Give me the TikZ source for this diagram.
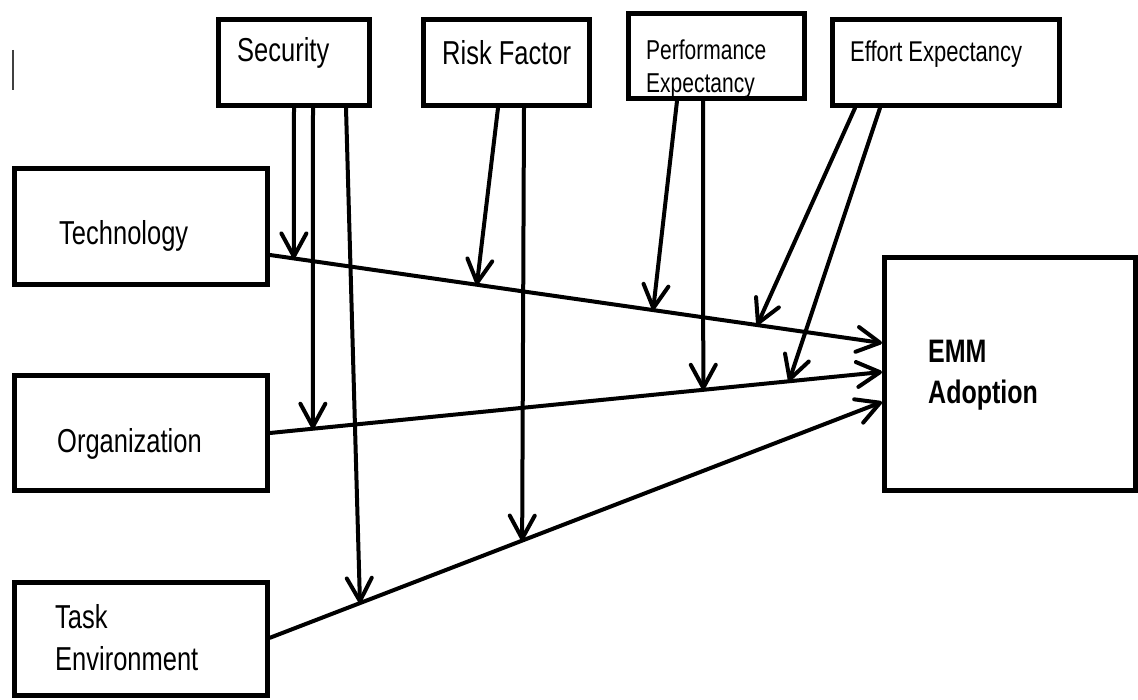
\documentclass[tikz,border=0pt]{standalone}
\usepackage{fontspec}
\usepackage{graphicx}
\setmainfont{Liberation Sans}
\usetikzlibrary{arrows.meta}
% Arial-like text, drawn slightly taller than wide
\newcommand{\tallText}[1]{\scalebox{1}[1.3]{#1}}

\begin{document}
\begin{tikzpicture}[x=1pt,y=-1pt,
  box/.style={draw, rectangle, line width=5pt, inner sep=0pt},
  lbl/.style={anchor=base west, inner sep=0pt, font=\fontsize{25.5}{30}\selectfont},
  smalllbl/.style={lbl, font=\fontsize{21}{25}\selectfont},
  conn/.style={line width=4pt, line cap=round,
    -{Straight Barb[length=23pt,width=25pt,round]}}
]
\useasboundingbox (0,0) rectangle (1138,700);

% stray cursor mark at the top left
\draw[line width=1.5pt, gray!50!black] (13,50) -- (13,90);

% moderator boxes along the top
\node[box, minimum width=151, minimum height=86] (sec)  at (294,62.5) {};
\node[box, minimum width=166, minimum height=86] (risk) at (506.5,62.5) {};
\node[box, minimum width=176, minimum height=85] (perf) at (716.5,56) {};
\node[box, minimum width=227, minimum height=86] (eff)  at (946,62.5) {};

% independent variables on the left
\node[box, minimum width=253, minimum height=116]   (tech) at (141,226.5) {};
\node[box, minimum width=253, minimum height=115]   (org)  at (141,433) {};
\node[box, minimum width=253, minimum height=113.5] (task) at (141,639) {};

% dependent variable
\node[box, minimum width=250.5, minimum height=233] (emm) at (1009.75,374) {};

% labels
\node[lbl] (secT)  at (237,62) {\tallText{Security}};
\node[lbl] (riskT) at (442,65) {\tallText{Risk Factor}};
\node[smalllbl] (perfTa) at (646,60) {\tallText{Performance}};
\node[smalllbl] (perfTb) at (646,93) {\tallText{Expectancy}};
\node[lbl, font=\fontsize{22}{26}\selectfont] (effT) at (850,62) {\tallText{Effort Expectancy}};
\node[lbl] (techT)  at (59,245) {\tallText{Technology}};
\node[lbl] (orgT)   at (57,452) {\tallText{Organization}};
\node[lbl] (taskTa) at (55,628) {\tallText{Task}};
\node[lbl] (taskTb) at (55,670) {\tallText{Environment}};
\node[lbl, font=\fontsize{25}{30}\selectfont\bfseries] (emmTa) at (928,363) {\tallText{EMM}};
\node[lbl, font=\fontsize{25}{30}\selectfont\bfseries] (emmTb) at (928,403) {\tallText{Adoption}};

% end points of the main paths
\coordinate (techOut) at ([yshift=-28.5pt]tech.east);
\coordinate (orgOut)  at (org.east);
\coordinate (taskOut) at ([yshift=1.25pt]task.east);
\coordinate (emmInA)  at ([yshift=31pt]emm.west);
\coordinate (emmInB)  at ([yshift=2pt]emm.west);
\coordinate (emmInC)  at ([yshift=-28pt]emm.west);

% main paths, with the points where moderators meet them
\draw[conn] (techOut) -- (emmInA)
  coordinate[pos=0.039] (tSec)
  coordinate[pos=0.338] (tRisk)
  coordinate[pos=0.626] (tPerf)
  coordinate[pos=0.796] (tEff);
\draw[conn] (orgOut) -- (emmInB)
  coordinate[pos=0.070] (oSec)
  coordinate[pos=0.708] (oPerf)
  coordinate[pos=0.848] (oEff);
\draw[conn] (taskOut) -- (emmInC)
  coordinate[pos=0.147] (kSec)
  coordinate[pos=0.412] (kRisk);

% moderating arrows
\draw[conn] ([xshift=78pt]sec.south west)  -- (tSec);
\draw[conn] ([xshift=97pt]sec.south west)  -- (oSec);
\draw[conn] ([xshift=130pt]sec.south west) -- (kSec);
\draw[conn] ([xshift=77pt]risk.south west) -- (tRisk);
\draw[conn] ([xshift=103pt]risk.south west) -- (kRisk);
\draw[conn] ([xshift=51pt]perf.south west) -- (tPerf);
\draw[conn] ([xshift=77pt]perf.south west) -- (oPerf);
\draw[conn] ([xshift=25pt]eff.south west)  -- (tEff);
\draw[conn] ([xshift=50pt]eff.south west)  -- (oEff);
\end{tikzpicture}
\end{document}
